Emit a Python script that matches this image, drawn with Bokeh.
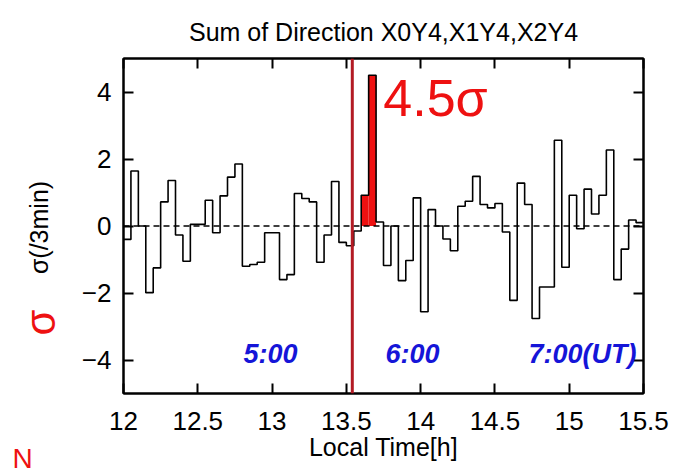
import math
from bokeh.plotting import figure
from bokeh.models import Label, LinearAxis, Span, FixedTicker
from bokeh.embed import file_html
from bokeh.resources import INLINE

# ---- data ----
bin_start = [12.00, 12.05, 12.10, 12.15, 12.20, 12.25, 12.30, 12.35, 12.40, 12.45,
             12.50, 12.55, 12.60, 12.65, 12.70, 12.75, 12.80, 12.85, 12.90, 12.95,
             13.00, 13.05, 13.10, 13.15, 13.20, 13.25, 13.30, 13.35, 13.40, 13.45,
             13.50, 13.55, 13.60, 13.65, 13.70, 13.75, 13.80, 13.85, 13.90, 13.95,
             14.00, 14.05, 14.10, 14.15, 14.20, 14.25, 14.30, 14.35, 14.40, 14.45,
             14.50, 14.55, 14.60, 14.65, 14.70, 14.75, 14.80, 14.85, 14.90, 14.95,
             15.00, 15.05, 15.10, 15.15, 15.20, 15.25, 15.30, 15.35, 15.40, 15.45]
bin_end_last = 15.50
sigma = [-0.40, 1.64, 0.00, -1.99, -1.25, 0.72, 1.36, -0.27, -1.05, 0.05,
         0.05, 0.77, -0.20, 0.90, 1.46, 1.85, -1.20, -1.15, -1.08, -0.20,
         -0.20, -1.60, -1.45, 0.97, 0.82, 0.72, -1.08, -0.27, 1.33, -0.49,
         -0.59, -0.15, 0.92, 4.50, 0.12, -1.18, 0.00, -1.63, -1.03, 0.84,
         -2.56, 0.49, 0.00, -0.39, -0.74, 0.59, 0.74, 1.48, 0.64, 0.54,
         0.67, -0.18, -2.22, 1.28, 0.64, -2.76, -1.82, -1.82, 2.56, -1.23,
         0.92, -0.08, 1.10, 0.36, 0.92, 2.27, -1.60, -0.69, 0.18, 0.10]
highlight_bins = [32, 33]          # bins filled red
event_time = 13.54                 # red vertical marker
x_ticks = [12, 12.5, 13, 13.5, 14, 14.5, 15, 15.5]
y_ticks = [-4, -2, 0, 2, 4]
title_text = "Sum of Direction X0Y4,X1Y4,X2Y4"
x_label = "Local Time[h]"
y_label = "σ(/3min)"
peak_note = "4.5σ"
ut_notes = [("5:00", 12.989), ("6:00", 13.945), ("7:00(UT)", 15.089)]

FONT = "Liberation Sans"
RED = "#ee1111"
BLUE = "#1515d8"

p = figure(width=675, height=469, x_range=(12, 15.5), y_range=(-5, 5),
           x_axis_type=None, y_axis_type=None,
           output_backend="svg", toolbar_location=None,
           min_border_left=123, min_border_right=32,
           min_border_top=58, min_border_bottom=76)
p.grid.visible = False
p.outline_line_color = "black"
p.outline_line_width = 2
p.background_fill_color = "white"
p.border_fill_color = "white"


def make_axis(ticks, show_labels, standoff):
    ax = LinearAxis(ticker=FixedTicker(ticks=ticks))
    ax.major_tick_in = 10
    ax.major_tick_out = 0
    ax.major_tick_line_width = 2
    ax.minor_tick_line_color = None
    ax.axis_line_width = 2
    ax.major_label_standoff = standoff
    ax.major_label_text_font = FONT
    ax.major_label_text_color = "black"
    ax.major_label_text_font_size = "26px"
    ax.axis_label_text_font = FONT
    ax.axis_label_text_font_size = "25px"
    ax.axis_label_text_font_style = "normal"
    ax.axis_label_text_color = "black"
    if not show_labels:
        ax.major_label_overrides = {t: "" for t in ticks}
        ax.major_label_standoff = 0
    return ax

xb = make_axis(x_ticks, True, 18)
xb.axis_label = x_label
xb.axis_label_standoff = 0
p.add_layout(xb, "below")
p.add_layout(make_axis(y_ticks, True, 12), "left")
p.add_layout(make_axis(x_ticks, False, 0), "above")
p.add_layout(make_axis(y_ticks, False, 0), "right")

p.title.text = title_text
p.title.text_font = FONT
p.title.text_font_size = "25px"
p.title.text_font_style = "normal"
p.title.text_color = "black"
p.title.align = "center"
p.title.standoff = 26

# zero line
p.add_layout(Span(location=0, dimension="width", line_color="black",
                  line_width=1.3, line_dash="6 4"))

# red filled bins
hl_left = [bin_start[i] for i in highlight_bins]
hl_right = [bin_start[i + 1] for i in highlight_bins]
hl_top = [sigma[i] for i in highlight_bins]
p.quad(left=hl_left, right=hl_right, bottom=[0] * len(hl_left), top=hl_top,
       fill_color=RED, line_color=None)

# step histogram
xs = bin_start + [bin_end_last]
ys = sigma + [sigma[-1]]
p.step(x=xs, y=ys, mode="after", line_color="black", line_width=1.6)

# event marker
p.add_layout(Span(location=event_time, dimension="height", line_color="#b31b24",
                  line_width=3))

# texts outside the frame, placed in side panels (canvas units)
p.add_layout(Label(x=38, y=227, x_units="canvas", y_units="canvas", text=y_label,
                   text_font=FONT, text_font_size="25px", text_color="black",
                   text_align="center", text_baseline="middle", angle=math.pi / 2),
             "left")
p.add_layout(Label(x=40, y=322, x_units="canvas", y_units="canvas", text="σ",
                   text_font=FONT, text_font_size="42px", text_color=RED,
                   text_align="center", text_baseline="middle", angle=math.pi / 2),
             "left")
p.add_layout(Label(x=22, y=458, x_units="canvas", y_units="canvas", text="N",
                   text_font=FONT, text_font_size="28px", text_color=RED,
                   text_align="center", text_baseline="middle"),
             "right")

# handwritten notes inside the frame
p.add_layout(Label(x=14.10, y=3.806, text=peak_note, text_font=FONT,
                   text_font_size="52px", text_color=RED,
                   text_align="center", text_baseline="middle"))
for txt, xx in ut_notes:
    p.add_layout(Label(x=xx, y=-3.806, text=txt, text_font=FONT,
                       text_font_size="27px", text_color=BLUE, text_font_style="bold italic",
                       text_align="center", text_baseline="middle"))

open("out.html", "w").write(file_html(p, INLINE))
